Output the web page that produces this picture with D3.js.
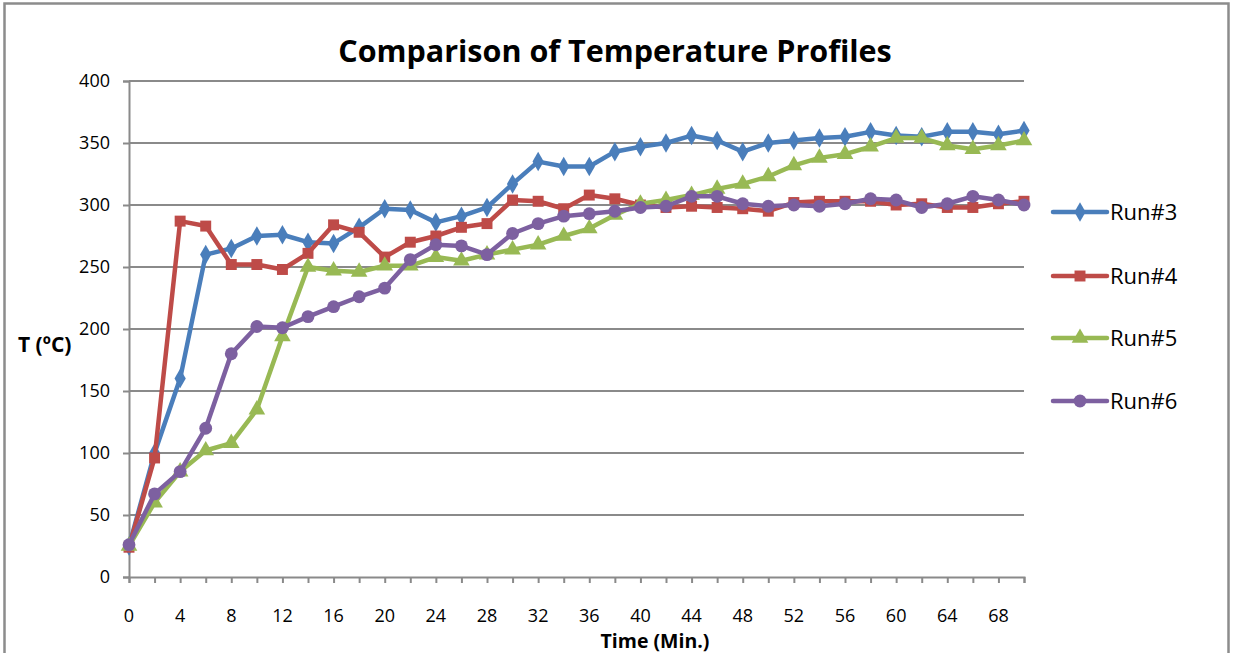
<!DOCTYPE html>
<html>
<head>
<meta charset="utf-8">
<script src="https://cdn.jsdelivr.net/npm/d3@7"></script>
<style>
  html, body { margin: 0; padding: 0; background: #fff; }
  svg { display: block; }
  text { font-family: "Open Sans", "Noto Sans", sans-serif; fill: #000; }
</style>
</head>
<body>
<svg id="chart" width="1235" height="653"></svg>
<script>
// Time in minutes
const times = [0, 2, 4, 6, 8, 10, 12, 14, 16, 18, 20, 22, 24, 26, 28, 30, 32, 34,
               36, 38, 40, 42, 44, 46, 48, 50, 52, 54, 56, 58, 60, 62, 64, 66, 68, 70];

// Temperature (ºC) per run
const run3 = [25, 100, 160, 260, 265, 275, 276, 270, 269, 282, 297, 296, 286, 291, 298, 317, 335, 331,
              331, 343, 347, 350, 356, 352, 343, 350, 352, 354, 355, 359, 356, 355, 359, 359, 357, 360];
const run4 = [24, 96, 287, 283, 252, 252, 248, 261, 284, 278, 258, 270, 275, 282, 285, 304, 303, 297,
              308, 305, 300, 298, 299, 298, 297, 295, 302, 303, 303, 303, 300, 301, 298, 298, 301, 303];
const run5 = [25, 60, 85, 102, 108, 135, 194, 250, 247, 246, 251, 251, 258, 255, 260, 264, 268, 275,
              281, 292, 301, 304, 308, 313, 317, 323, 332, 338, 341, 347, 354, 354, 348, 345, 348, 352];
const run6 = [26, 67, 85, 120, 180, 202, 201, 210, 218, 226, 233, 256, 268, 267, 260, 277, 285, 291,
              293, 295, 298, 299, 307, 307, 301, 299, 300, 299, 301, 305, 304, 298, 301, 307, 304, 300];

const seriesNames = ["Run#3", "Run#4", "Run#5", "Run#6"];
const seriesValues = [run3, run4, run5, run6];

const xTickLabels = [0, 4, 8, 12, 16, 20, 24, 28, 32, 36, 40, 44, 48, 52, 56, 60, 64, 68];
const xMinorTicks = times;
const yTicks = [0, 50, 100, 150, 200, 250, 300, 350, 400];

const colors = ["#4a7ebb", "#be4b48", "#98b954", "#7d60a0"];
const symbols = [d3.symbolDiamond, d3.symbolSquare, d3.symbolTriangle, d3.symbolCircle];
const symbolSizes = [110, 120, 120, 130];

const svg = d3.select("#chart");

// Outer chart frame
svg.append("rect")
  .attr("x", 4.5).attr("y", 3.5)
  .attr("width", 1224).attr("height", 670)
  .attr("fill", "#fff")
  .attr("stroke", "#8c8c8c")
  .attr("stroke-width", 2.5);

const x = d3.scaleLinear().domain([0, 70]).range([129, 1024]);
const y = d3.scaleLinear().domain([0, 400]).range([577, 81]);

// Horizontal gridlines
svg.append("g")
  .selectAll("line")
  .data(yTicks.filter(v => v > 0))
  .join("line")
  .attr("x1", x(0)).attr("x2", x(70))
  .attr("y1", d => y(d)).attr("y2", d => y(d))
  .attr("stroke", "#8a8a8a")
  .attr("stroke-width", 2);

// Y axis
const yAxis = svg.append("g")
  .attr("transform", `translate(${x(0)},0)`)
  .call(d3.axisLeft(y).tickValues(yTicks).tickSize(6).tickPadding(13));
yAxis.select(".domain").attr("stroke", "#8a8a8a").attr("stroke-width", 2);
yAxis.selectAll(".tick line").attr("stroke", "#8a8a8a").attr("stroke-width", 2);
yAxis.selectAll(".tick text")
  .attr("font-size", 18)
  .attr("font-family", "Open Sans, sans-serif")
  .attr("fill", "#000");

// X axis: minor ticks every 2 minutes, labels every 4
const xAxis = svg.append("g")
  .attr("transform", `translate(0,${y(0)})`)
  .call(d3.axisBottom(x).tickValues(xMinorTicks).tickSize(6).tickFormat(() => ""));
xAxis.select(".domain").attr("stroke", "#8a8a8a").attr("stroke-width", 2);
xAxis.selectAll(".tick line").attr("stroke", "#8a8a8a").attr("stroke-width", 2);

svg.append("g")
  .selectAll("text")
  .data(xTickLabels)
  .join("text")
  .attr("x", d => x(d))
  .attr("y", 622)
  .attr("text-anchor", "middle")
  .attr("font-size", 18)
  .text(d => d);

// Series lines and markers
const line = d3.line()
  .x((d, i) => x(times[i]))
  .y(d => y(d));

seriesValues.forEach((vals, s) => {
  const g = svg.append("g");
  g.append("path")
    .datum(vals)
    .attr("d", line)
    .attr("fill", "none")
    .attr("stroke", colors[s])
    .attr("stroke-width", 4.5)
    .attr("stroke-linejoin", "round");
  g.selectAll("path.mk")
    .data(vals)
    .join("path")
    .attr("class", "mk")
    .attr("d", d3.symbol().type(symbols[s]).size(symbolSizes[s]))
    .attr("transform", (d, i) => `translate(${x(times[i])},${y(d)})`)
    .attr("fill", colors[s]);
});

// Title
svg.append("text")
  .attr("x", 615).attr("y", 62)
  .attr("text-anchor", "middle")
  .attr("font-size", 30.5)
  .attr("font-weight", "bold")
  .text("Comparison of Temperature Profiles");

// Axis titles
svg.append("text")
  .attr("x", 655).attr("y", 648)
  .attr("text-anchor", "middle")
  .attr("font-size", 19.5)
  .attr("font-weight", "bold")
  .text("Time (Min.)");

svg.append("text")
  .attr("x", 18).attr("y", 352)
  .attr("font-size", 21)
  .attr("font-weight", "bold")
  .text("T (ºC)");

// Legend
const legendY = [212, 276, 338, 401];
seriesNames.forEach((name, s) => {
  const g = svg.append("g");
  g.append("line")
    .attr("x1", 1053).attr("x2", 1107)
    .attr("y1", legendY[s]).attr("y2", legendY[s])
    .attr("stroke", colors[s])
    .attr("stroke-width", 4.5)
    .attr("stroke-linecap", "round");
  g.append("path")
    .attr("d", d3.symbol().type(symbols[s]).size(symbolSizes[s])())
    .attr("transform", `translate(1080,${legendY[s]})`)
    .attr("fill", colors[s]);
  g.append("text")
    .attr("x", 1110).attr("y", legendY[s] + 8)
    .attr("font-size", 22)
    .text(name);
});
</script>
</body>
</html>
